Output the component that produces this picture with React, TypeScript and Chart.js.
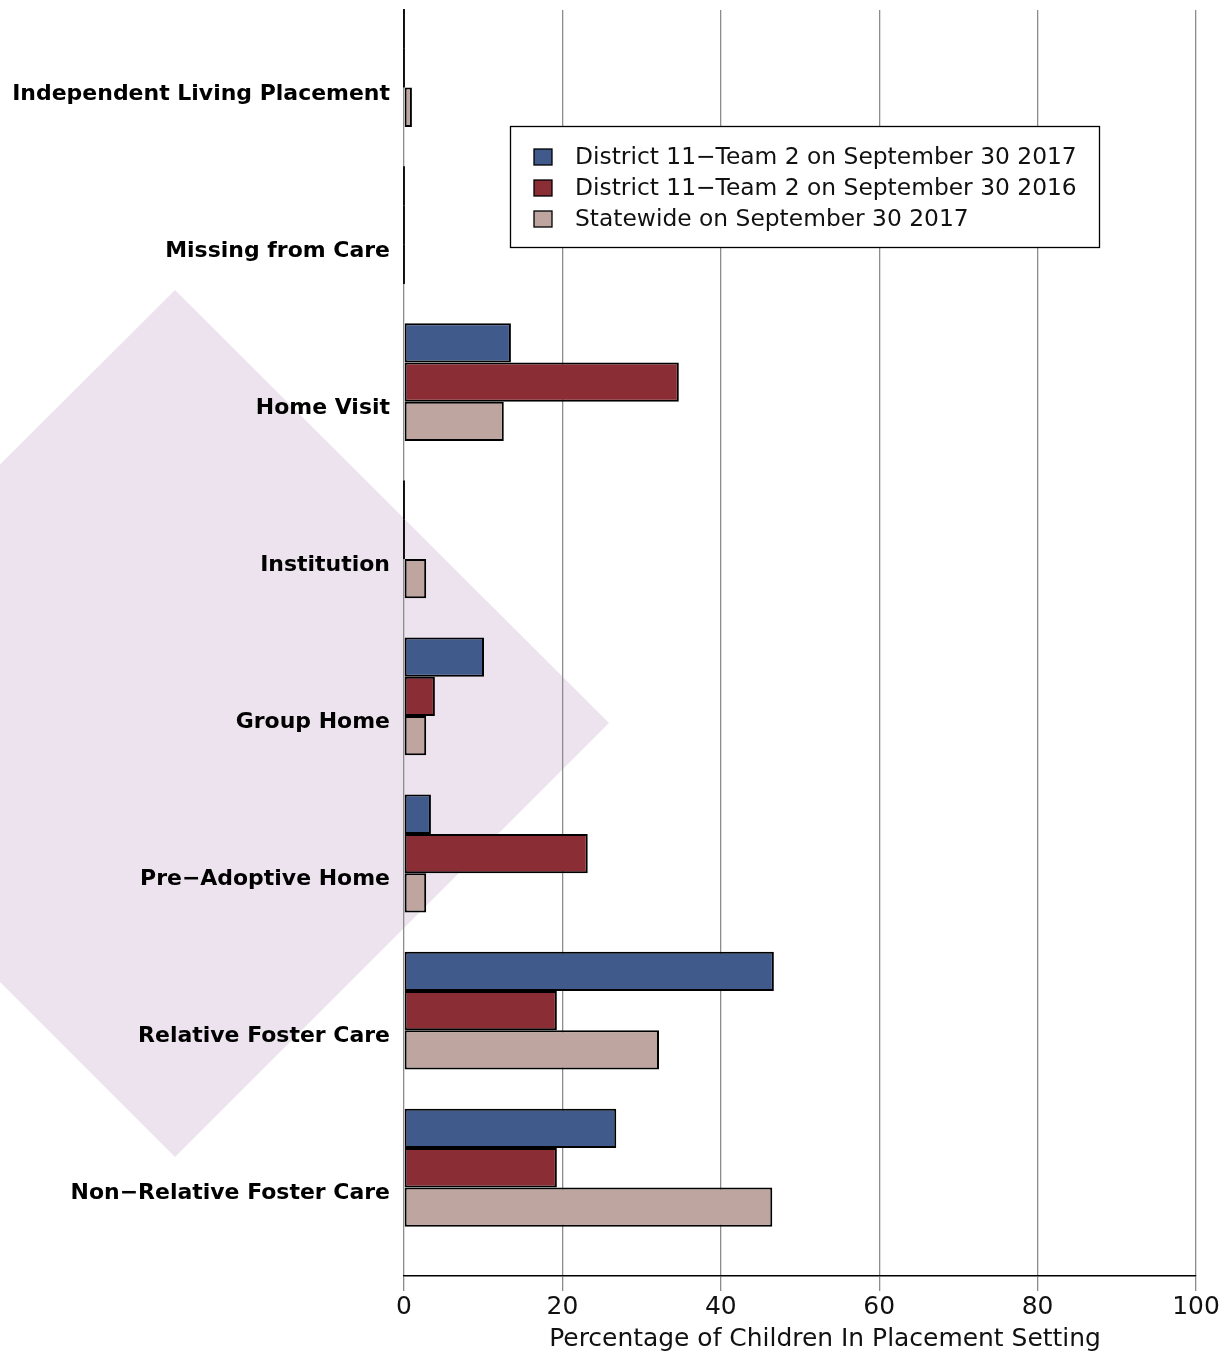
import { useEffect, useRef } from "react";
import { Chart, registerables } from "chart.js";

Chart.register(...registerables);

const categories = [
  "Independent Living Placement",
  "Missing from Care",
  "Home Visit",
  "Institution",
  "Group Home",
  "Pre−Adoptive Home",
  "Relative Foster Care",
  "Non−Relative Foster Care",
];
const seriesLabels = [
  "District 11−Team 2 on September 30 2017",
  "District 11−Team 2 on September 30 2016",
  "Statewide on September 30 2017",
];
const district2017 = [0, 0, 13.5, 0, 10.1, 3.4, 46.7, 26.8];
const district2016 = [0, 0, 34.7, 0, 3.9, 23.2, 19.3, 19.3];
const statewide2017 = [1.0, 0, 12.6, 2.8, 2.8, 2.8, 32.2, 46.5];
const xTicks = [0, 20, 40, 60, 80, 100];
const xTitle = "Percentage of Children In Placement Setting";
const seriesColors = ["#3f5a8b", "#8a2d34", "#bea59f"];

const FAMILY = "'DejaVu Sans', sans-serif";

function fitSize(text: string, weight: string, target: number): number {
  const c = document.createElement("canvas").getContext("2d")!;
  c.font = `${weight} 100px ${FAMILY}`;
  return (100 * target) / c.measureText(text).width;
}

export default function App() {
  const ref = useRef<HTMLCanvasElement | null>(null);

  useEffect(() => {
    const canvas = ref.current;
    if (!canvas) return;

    const labelSize = fitSize(categories[0], "bold", 378);
    const legendSize = fitSize(seriesLabels[0], "normal", 502);
    const titleSize = fitSize(xTitle, "normal", 552);

    const allSeries = [district2017, district2016, statewide2017];

    const diamondPlugin = {
      id: "diamond",
      beforeDraw(chart: any) {
        const ctx = chart.ctx;
        ctx.save();
        ctx.fillStyle = "#ede3ee";
        ctx.beginPath();
        ctx.moveTo(175, 290);
        ctx.lineTo(609, 723);
        ctx.lineTo(175, 1157);
        ctx.lineTo(-259, 723);
        ctx.closePath();
        ctx.fill();
        ctx.restore();
      },
    };

    const zeroBarPlugin = {
      id: "zeroBars",
      afterDatasetsDraw(chart: any) {
        const ctx = chart.ctx;
        ctx.save();
        ctx.strokeStyle = "#000";
        ctx.lineWidth = 1.8;
        chart.data.datasets.forEach((_ds: any, di: number) => {
          const meta = chart.getDatasetMeta(di);
          meta.data.forEach((el: any, i: number) => {
            const v = meta._parsed[i].x;
            if (v === 0) {
              const p = el.getProps(["x", "y", "base", "height"], true);
              ctx.beginPath();
              ctx.moveTo(p.base, p.y - p.height / 2);
              ctx.lineTo(p.base, p.y + p.height / 2);
              ctx.stroke();
            }
          });
        });
        ctx.restore();
      },
    };

    const legendTitlePlugin = {
      id: "legendTitle",
      afterDraw(chart: any) {
        const ctx = chart.ctx;
        ctx.save();
        ctx.fillStyle = "#fff";
        ctx.fillRect(510, 126, 590, 122);
        ctx.strokeStyle = "#000";
        ctx.lineWidth = 1.3;
        ctx.strokeRect(510.5, 126.5, 589, 121);
        chart.data.datasets.forEach((ds: any, i: number) => {
          const cy = 157 + i * 31;
          ctx.fillStyle = ds.backgroundColor;
          ctx.fillRect(534, cy - 8, 18, 16);
          ctx.strokeStyle = "#000";
          ctx.lineWidth = 1.3;
          ctx.strokeRect(534, cy - 8, 18, 16);
          ctx.fillStyle = "#111";
          ctx.font = `normal ${legendSize}px ${FAMILY}`;
          ctx.textAlign = "left";
          ctx.textBaseline = "middle";
          ctx.fillText(ds.label, 575, cy + 1);
        });
        const xs = chart.scales.x;
        ctx.fillStyle = "#111";
        ctx.font = `normal ${titleSize}px ${FAMILY}`;
        ctx.textAlign = "center";
        ctx.textBaseline = "alphabetic";
        ctx.fillText(xTitle, (xs.left + xs.right) / 2 + 25, 1346);
        ctx.restore();
      },
    };

    const chart = new Chart(canvas, {
      type: "bar",
      data: {
        datasets: allSeries.map((vals, si) => ({
          label: seriesLabels[si],
          data: vals.map((v, i) => ({ x: v, y: i })),
          backgroundColor: seriesColors[si],
          borderColor: "#000",
          borderWidth: 2,
          borderSkipped: false,
          categoryPercentage: 0.75,
          barPercentage: 1,
        })),
      },
      options: {
        indexAxis: "y",
        responsive: false,
        animation: false,
        layout: { padding: { top: 10, right: 29, bottom: 0, left: 0 } },
        plugins: {
          legend: { display: false },
          tooltip: { enabled: false },
          title: { display: false },
        },
        scales: {
          x: {
            type: "linear",
            position: "bottom",
            min: 0,
            max: 100,
            afterBuildTicks: (s: any) => {
              s.ticks = xTicks.map((v) => ({ value: v }));
            },
            afterFit: (s: any) => {
              s.height = 75;
            },
            ticks: {
              color: "#111",
              font: { family: FAMILY, size: titleSize },
              padding: 2,
              maxRotation: 0,
            },
            grid: {
              color: "#8c8c8c",
              lineWidth: 1.3,
              tickLength: 15,
              drawOnChartArea: true,
            },
            border: { display: true, color: "#000", width: 1.6 },
          },
          y: {
            type: "linear",
            reverse: true,
            offset: false,
            min: -0.369,
            max: 7.689,
            afterBuildTicks: (s: any) => {
              s.ticks = categories.map((_c, i) => ({ value: i }));
            },
            afterFit: (s: any) => {
              s.width = 404;
              s.paddingTop = 0;
              s.paddingBottom = 0;
            },
            ticks: {
              callback: (v: any) => categories[Number(v)] ?? "",
              color: "#000",
              font: { family: FAMILY, size: labelSize, weight: "bold" },
              padding: 14,
              labelOffset: 26,
            },
            grid: { display: false, drawTicks: false, offset: false },
            border: { display: false },
          },
        },
      } as any,
      plugins: [diamondPlugin, zeroBarPlugin, legendTitlePlugin],
    });

    return () => chart.destroy();
  }, []);

  return (
    <div style={{ position: "absolute", left: 0, top: 0, width: 1225, height: 1351, background: "#fff" }}>
      <canvas ref={ref} width={1225} height={1351} style={{ display: "block" }} />
    </div>
  );
}
